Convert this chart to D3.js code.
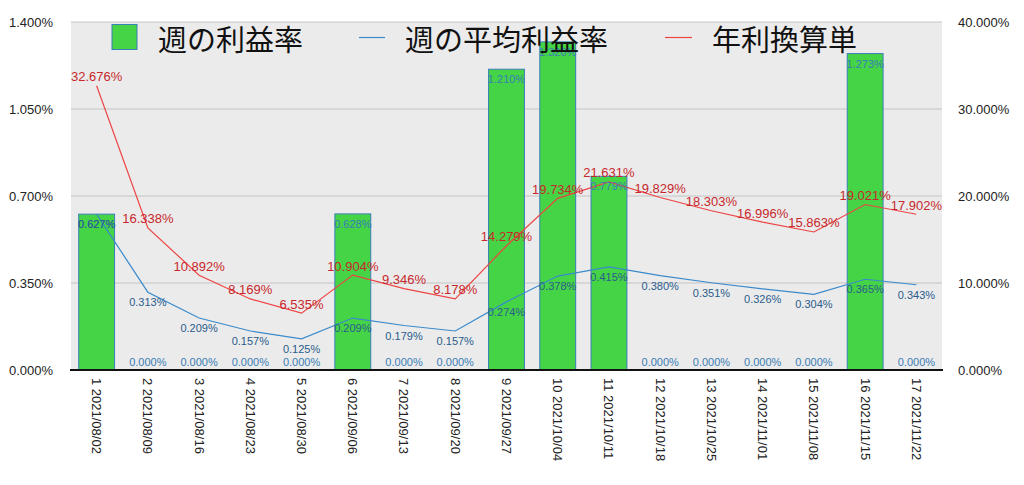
<!DOCTYPE html>
<html><head><meta charset="utf-8">
<script src="https://cdn.jsdelivr.net/npm/d3@7"></script>
<style>body{margin:0;background:#fff}svg{display:block}</style>
</head><body>
<svg id="c" width="1024" height="485"></svg>
<script>
const categories = ["1 2021/08/02","2 2021/08/09","3 2021/08/16","4 2021/08/23","5 2021/08/30","6 2021/09/06","7 2021/09/13","8 2021/09/20","9 2021/09/27","10 2021/10/04","11 2021/10/11","12 2021/10/18","13 2021/10/25","14 2021/11/01","15 2021/11/08","16 2021/11/15","17 2021/11/22"];
const weeklyRate = [0.627,0,0,0,0,0.628,0,0,1.210,1.320,0.779,0,0,0,0,1.273,0];
const avgRate = [0.627,0.313,0.209,0.157,0.125,0.209,0.179,0.157,0.274,0.378,0.415,0.380,0.351,0.326,0.304,0.365,0.343];
const annualRate = [32.676,16.338,10.892,8.169,6.535,10.904,9.346,8.178,14.279,19.734,21.631,19.829,18.303,16.996,15.863,19.021,17.902];
const leftTicks = [0,0.35,0.7,1.05,1.4];
const rightTicks = [0,10,20,30,40];
const seriesNames = ["週の利益率","週の平均利益率","年利換算単"];

const svg = d3.select("#c");
const L=71, R=942, T=22, B=370;
const x = d3.scaleBand().domain(categories).range([L,R]).paddingInner(0.3).paddingOuter(0.15);
const xc = d => x(d) + x.bandwidth()/2;
const yL = d3.scaleLinear().domain([0,1.4]).range([B,T]);
const yR = d3.scaleLinear().domain([0,40]).range([B,T]);
const font = "'Liberation Sans', Arial, sans-serif";

svg.append("rect").attr("x",L).attr("y",T).attr("width",R-L).attr("height",B-T).attr("fill","#ebebeb");
svg.append("g").selectAll("line").data(leftTicks).join("line")
  .attr("x1",L).attr("x2",R).attr("y1",d=>yL(d)).attr("y2",d=>yL(d))
  .attr("stroke","#c4c4c4").attr("stroke-width",1);

// left axis
const ga = d3.axisLeft(yL).tickValues(leftTicks).tickFormat(d=>d.toFixed(3)+"%").tickSize(0).tickPadding(18);
svg.append("g").attr("transform",`translate(${L},0)`).call(ga)
  .call(g=>g.select(".domain").remove())
  .call(g=>g.selectAll("text").attr("font-family",font).attr("font-size",13).attr("fill","#222"));
const gr = d3.axisRight(yR).tickValues(rightTicks).tickFormat(d=>d.toFixed(3)+"%").tickSize(0).tickPadding(16);
svg.append("g").attr("transform",`translate(${R},0)`).call(gr)
  .call(g=>g.select(".domain").remove())
  .call(g=>g.selectAll("text").attr("font-family",font).attr("font-size",13).attr("fill","#222"));

// bars
svg.append("g").selectAll("rect").data(weeklyRate).join("rect")
  .attr("x",(d,i)=>x(categories[i])).attr("width",x.bandwidth())
  .attr("y",d=>yL(d)).attr("height",d=>B-yL(d))
  .attr("fill","#45d445").attr("stroke","#3a7fb8").attr("stroke-width",1);

// bottom axis
const gx = d3.axisBottom(x).tickSize(0).tickPadding(0);
svg.append("g").attr("transform",`translate(0,${B})`).call(gx)
  .call(g=>g.select(".domain").attr("stroke","#111").attr("stroke-width",2).attr("d",`M${L-1},0H${R+1}`))
  .call(g=>g.selectAll("text").attr("font-family",font).attr("font-size",13).attr("fill","#222")
     .attr("transform","rotate(90)").attr("text-anchor","start").attr("x",8).attr("y",0).attr("dy","0.35em"));

// lines
const lineL = d3.line().x((d,i)=>xc(categories[i])).y(d=>yL(d));
const lineR = d3.line().x((d,i)=>xc(categories[i])).y(d=>yR(d));
svg.append("path").attr("d",lineL(avgRate)).attr("fill","none").attr("stroke","#3a8acb").attr("stroke-width",1.2);
svg.append("path").attr("d",lineR(annualRate)).attr("fill","none").attr("stroke","#ee4444").attr("stroke-width",1.2);

// bar labels
svg.append("g").selectAll("text").data(weeklyRate).join("text")
  .attr("x",(d,i)=>xc(categories[i])).attr("y",d=>d>0?yL(d)+10:yL(d)-8)
  .attr("text-anchor","middle").attr("dominant-baseline","central")
  .attr("font-family",font).attr("font-size",11).attr("fill","#3a7db5")
  .text(d=>d.toFixed(3)+"%");
// avg labels
svg.append("g").selectAll("text").data(avgRate).join("text")
  .attr("x",(d,i)=>xc(categories[i])).attr("y",d=>yL(d)+10)
  .attr("text-anchor","middle").attr("dominant-baseline","central")
  .attr("font-family",font).attr("font-size",11).attr("fill","#2a5c8c")
  .text(d=>d.toFixed(3)+"%");
// annual labels
svg.append("g").selectAll("text").data(annualRate).join("text")
  .attr("x",(d,i)=>xc(categories[i])).attr("y",d=>yR(d)-9)
  .attr("text-anchor","middle").attr("dominant-baseline","central")
  .attr("font-family",font).attr("font-size",13).attr("fill","#c8282c")
  .text(d=>d.toFixed(3)+"%");

// legend
const lg = svg.append("g");
const jfont = "'Noto Sans CJK JP', sans-serif";
lg.append("rect").attr("x",112).attr("y",24.5).attr("width",25).attr("height",25).attr("fill","#45d445").attr("stroke","#3a7fb8");
lg.append("line").attr("x1",359).attr("x2",385).attr("y1",37.5).attr("y2",37.5).attr("stroke","#3a8acb").attr("stroke-width",1.2);
lg.append("line").attr("x1",665).attr("x2",692).attr("y1",37.5).attr("y2",37.5).attr("stroke","#ee4444").attr("stroke-width",1.2);
const lx=[158,405,712];
lg.selectAll("text").data(seriesNames).join("text")
  .attr("x",(d,i)=>lx[i]).attr("y",38).attr("dominant-baseline","central")
  .attr("font-family",jfont).attr("font-size",29).attr("fill","#111").text(d=>d);
</script>
</body></html>
